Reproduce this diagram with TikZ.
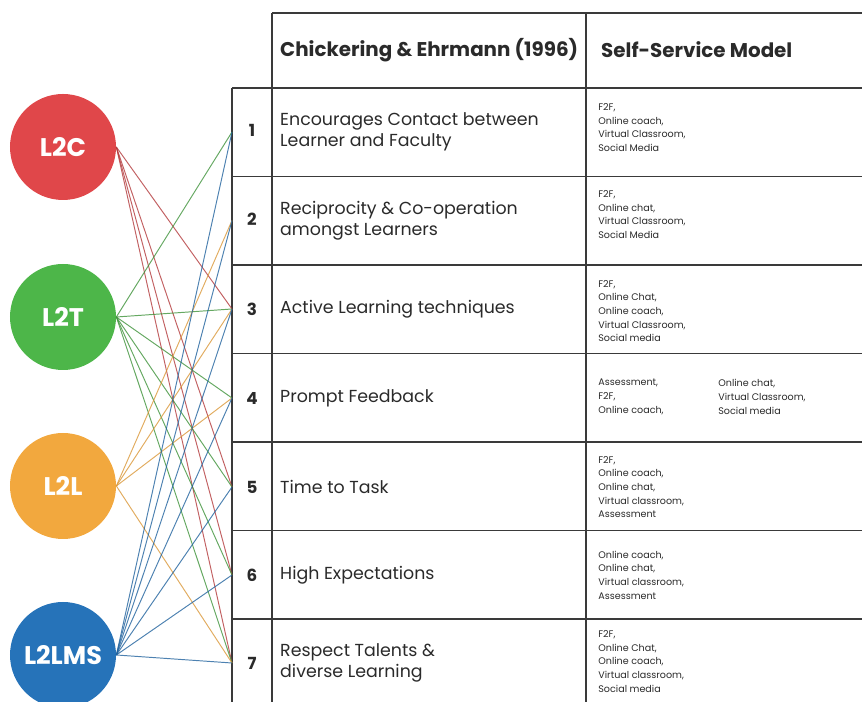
\documentclass[tikz,border=0pt]{standalone}
\usepackage{fontspec}
\setmainfont{Poppins}
\usepackage{xcolor}
\usepackage{tikz}
\definecolor{LRed}{HTML}{E0474A}
\definecolor{LGreen}{HTML}{4DB649}
\definecolor{LOrange}{HTML}{F2A83E}
\definecolor{LBlue}{HTML}{2673B9}
\definecolor{TabLine}{HTML}{3A3A3A}
\definecolor{TabText}{HTML}{2A2A2A}

\begin{document}
\begin{tikzpicture}[x=1cm,y=1cm,
  hub/.style={circle,minimum size=2.12cm,inner sep=0pt,text=white,font=\fontsize{14.5}{16}\selectfont\bfseries},
  link/.style={line width=0.55pt,opacity=0.8},
  tabline/.style={line width=1.1pt,TabLine},
  numtext/.style={text=TabText,font=\fontsize{9.5}{11}\selectfont\bfseries},
  celltext/.style={anchor=west,align=left,text=TabText,font=\fontsize{9.9}{12.2}\selectfont},
  smalltext/.style={anchor=west,align=left,text=TabText,inner sep=0pt,font=\fontsize{5.45}{7.8}\selectfont}]
\path[use as bounding box] (0,0) rectangle (17.24,14.04);
% table frame
\draw[tabline] (5.44,13.78) -- (17.24,13.78);
\draw[tabline] (4.64,12.28) -- (17.24,12.28);
\draw[tabline] (4.64,10.51) -- (17.24,10.51);
\draw[tabline] (4.64,8.74) -- (17.24,8.74);
\draw[tabline] (4.64,6.97) -- (17.24,6.97);
\draw[tabline] (4.64,5.20) -- (17.24,5.20);
\draw[tabline] (4.64,3.43) -- (17.24,3.43);
\draw[tabline] (4.64,1.66) -- (17.24,1.66);
\draw[tabline] (4.64,12.28) -- (4.64,0);
\draw[tabline] (5.44,13.78) -- (5.44,0);
\draw[tabline] (11.72,13.78) -- (11.72,0);
% header
\node[anchor=west,text=TabText,font=\fontsize{11.3}{13}\selectfont\bfseries] (headA) at (5.48,13.04) {Chickering \& Ehrmann (1996)};
\node[anchor=west,text=TabText,font=\fontsize{11.3}{13}\selectfont\bfseries] (headB) at (11.90,13.04) {Self-Service Model};
% numbers
\node[numtext] (n1) at (5.04,11.43) {1};
\node[numtext] (n2) at (5.04,9.66) {2};
\node[numtext] (n3) at (5.04,7.86) {3};
\node[numtext] (n4) at (5.04,6.08) {4};
\node[numtext] (n5) at (5.04,4.30) {5};
\node[numtext] (n6) at (5.04,2.54) {6};
\node[numtext] (n7) at (5.04,0.78) {7};
% principles
\node[celltext] (p1) at (5.48,11.40) {Encourages Contact between\\Learner and Faculty};
\node[celltext] (p2) at (5.48,9.63) {Reciprocity \& Co-operation\\amongst Learners};
\node[celltext] (p3) at (5.48,7.86) {Active Learning techniques};
\node[celltext] (p4) at (5.48,6.08) {Prompt Feedback};
\node[celltext] (p5) at (5.48,4.30) {Time to Task};
\node[celltext] (p6) at (5.48,2.54) {High Expectations};
\node[celltext] (p7) at (5.48,0.78) {Respect Talents \&\\diverse Learning};
% self-service channels
\node[smalltext] (s1) at (11.96,11.49) {F2F,\\Online coach,\\Virtual Classroom,\\Social Media};
\node[smalltext] (s2) at (11.96,9.75) {F2F,\\Online chat,\\Virtual Classroom,\\Social Media};
\node[smalltext] (s3) at (11.96,7.82) {F2F,\\Online Chat,\\Online coach,\\Virtual Classroom,\\Social media};
\node[smalltext] (s4a) at (11.96,6.10) {Assessment,\\F2F,\\Online coach,};
\node[smalltext] (s4b) at (14.36,6.10) {Online chat,\\Virtual Classroom,\\Social media};
\node[smalltext] (s5) at (11.96,4.30) {F2F,\\Online coach,\\Online chat,\\Virtual classroom,\\Assessment};
\node[smalltext] (s6) at (11.96,2.54) {Online coach,\\Online chat,\\Virtual classroom,\\Assessment};
\node[smalltext] (s7) at (11.96,0.81) {F2F,\\Online Chat,\\Online coach,\\Virtual classroom,\\Social media};
% interaction hubs
\node[hub,fill=LRed] (l2c) at (1.26,11.10) {L2C};
\node[hub,fill=LGreen] (l2t) at (1.26,7.70) {L2T};
\node[hub,fill=LOrange] (l2l) at (1.26,4.32) {L2L};
\node[hub,fill=LBlue] (l2lms) at (1.26,0.94) {L2LMS};
% row entry points
\coordinate (r1) at (4.64,11.40);
\coordinate (r2) at (4.64,9.63);
\coordinate (r3) at (4.64,7.86);
\coordinate (r4) at (4.64,6.08);
\coordinate (r5) at (4.64,4.30);
\coordinate (r6) at (4.64,2.54);
\coordinate (r7) at (4.64,0.78);
% links
\draw[link,LRed!80!black] (l2c.east) -- (r3);
\draw[link,LRed!80!black] (l2c.east) -- (r5);
\draw[link,LRed!80!black] (l2c.east) -- (r6);
\draw[link,LRed!80!black] (l2c.east) -- (r7);
\draw[link,LGreen!80!black] (l2t.east) -- (r1);
\draw[link,LGreen!80!black] (l2t.east) -- (r3);
\draw[link,LGreen!80!black] (l2t.east) -- (r4);
\draw[link,LGreen!80!black] (l2t.east) -- (r5);
\draw[link,LGreen!80!black] (l2t.east) -- (r6);
\draw[link,LGreen!80!black] (l2t.east) -- (r7);
\draw[link,LOrange!90!black] (l2l.east) -- (r2);
\draw[link,LOrange!90!black] (l2l.east) -- (r3);
\draw[link,LOrange!90!black] (l2l.east) -- (r4);
\draw[link,LOrange!90!black] (l2l.east) -- (r7);
\draw[link,LBlue!85!black] (l2lms.east) -- (r1);
\draw[link,LBlue!85!black] (l2lms.east) -- (r2);
\draw[link,LBlue!85!black] (l2lms.east) -- (r3);
\draw[link,LBlue!85!black] (l2lms.east) -- (r4);
\draw[link,LBlue!85!black] (l2lms.east) -- (r5);
\draw[link,LBlue!85!black] (l2lms.east) -- (r6);
\draw[link,LBlue!85!black] (l2lms.east) -- (r7);
\end{tikzpicture}
\end{document}
